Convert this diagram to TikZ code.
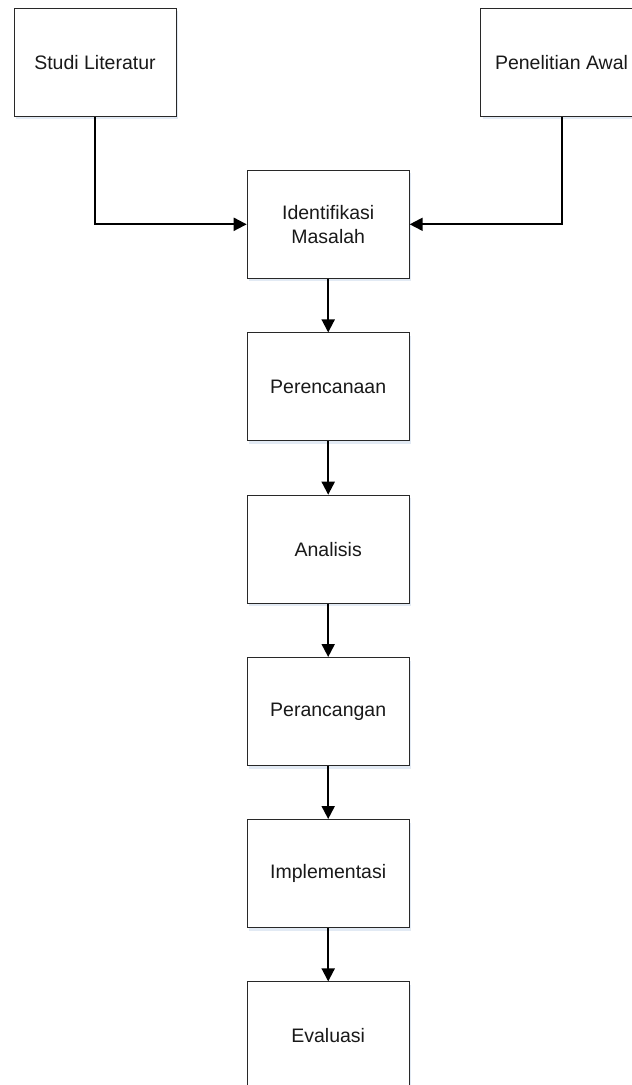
\documentclass[tikz,border=0pt]{standalone}
\usepackage{fontspec}
\setmainfont{Liberation Sans}
\usetikzlibrary{arrows.meta,shadows}
\definecolor{shadowc}{RGB}{226,234,244}
\definecolor{edgec}{RGB}{40,40,40}
\tikzset{
  stepbox/.style={draw=edgec, line width=1pt, fill=white, minimum width=162pt, minimum height=108pt,
    inner sep=0pt, align=center, font=\fontsize{19.5pt}{24pt}\selectfont, text=black!90,
    drop shadow={fill=shadowc, opacity=1, shadow xshift=2pt, shadow yshift=-3pt}},
  conn/.style={line width=2pt, draw=black, -{Triangle[length=13pt,width=13pt]}},
}
\begin{document}
\begin{tikzpicture}[x=1pt,y=-1pt]
\useasboundingbox (0,0) rectangle (632,1085);
\clip (0,0) rectangle (632,1085);
\node[stepbox] (studi) at (95,62.3) {Studi Literatur};
\node[stepbox] (awal) at (561.5,62.3) {Penelitian Awal};
\node[stepbox] (ident) at (328.2,224.3) {Identifikasi\\Masalah};
\node[stepbox] (renc) at (328.2,386.9) {Perencanaan};
\node[stepbox] (anal) at (328.2,549.2) {Analisis};
\node[stepbox] (ranc) at (328.2,711.5) {Perancangan};
\node[stepbox] (impl) at (328.2,873.5) {Implementasi};
\node[stepbox] (eval) at (328.2,1035.9) {Evaluasi};
\draw[conn] (studi.south) |- (ident.west);
\draw[conn] (awal.south) |- (ident.east);
\draw[conn] (ident) -- (renc);
\draw[conn] (renc) -- (anal);
\draw[conn] (anal) -- (ranc);
\draw[conn] (ranc) -- (impl);
\draw[conn] (impl) -- (eval);
\end{tikzpicture}
\end{document}
